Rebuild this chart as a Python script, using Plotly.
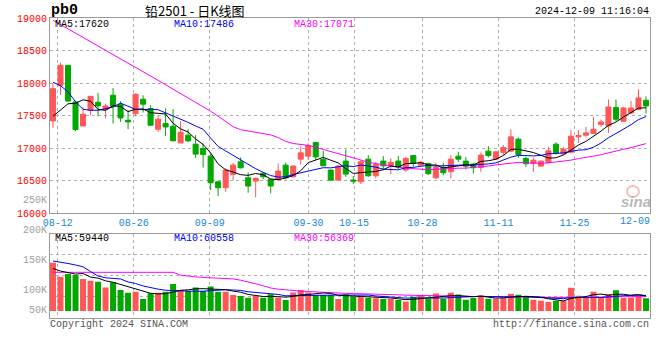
import pandas as pd
import plotly.graph_objects as go

# ---------------- data ----------------
dates = ["08-09", "08-12", "08-13", "08-14", "08-15", "08-16", "08-19", "08-20", "08-21", "08-22",
         "08-23", "08-26", "08-27", "08-28", "08-29", "08-30", "09-02", "09-03", "09-04", "09-05",
         "09-06", "09-09", "09-10", "09-11", "09-12", "09-13", "09-18", "09-19", "09-20", "09-23",
         "09-24", "09-25", "09-26", "09-27", "09-30", "10-08", "10-09", "10-10", "10-11", "10-14",
         "10-15", "10-16", "10-17", "10-18", "10-21", "10-22", "10-23", "10-24", "10-25", "10-28",
         "10-29", "10-30", "10-31", "11-01", "11-04", "11-05", "11-06", "11-07", "11-08", "11-11",
         "11-12", "11-13", "11-14", "11-15", "11-18", "11-19", "11-20", "11-21", "11-22", "11-25",
         "11-26", "11-27", "11-28", "11-29", "12-02", "12-03", "12-04", "12-05", "12-06", "12-09"]

open_ = [17419, 17966, 18272, 17710, 17342, 17583, 17705, 17598, 17813, 17670,
         17430, 17532, 17751, 17609, 17292, 17379, 17338, 17082, 17200, 17062,
         16996, 16878, 16484, 16393, 16598, 16791, 16546, 16495, 16613, 16521,
         16521, 16740, 16561, 16832, 16878, 17088, 16828, 16664, 16510, 16802,
         16510, 16484, 16832, 16576, 16802, 16730, 16802, 16664, 16889, 16740,
         16766, 16546, 16705, 16638, 16878, 16802, 16756, 16705, 16955, 16832,
         16935, 16955, 17139, 16843, 16766, 16725, 16782, 17062, 16913, 16939,
         17174, 17200, 17226, 17364, 17342, 17624, 17414, 17542, 17594, 17736]
high = [17992, 18314, 18280, 17730, 17633, 17800, 17848, 17686, 17925, 17721,
        17583, 17840, 17813, 17660, 17506, 17609, 17600, 17414, 17292, 17200,
        17073, 16920, 16490, 16690, 16776, 16858, 16628, 16546, 16633, 16530,
        16766, 16776, 16740, 17021, 17073, 17095, 16959, 16670, 16740, 16981,
        16572, 16817, 16894, 16791, 16878, 16843, 16878, 16867, 16895, 16802,
        16776, 16776, 16776, 16894, 16944, 16867, 16776, 16935, 17031, 16955,
        17047, 17287, 17165, 16867, 16858, 16817, 17021, 17088, 17021, 17277,
        17277, 17327, 17480, 17440, 17747, 17747, 17635, 17725, 17905, 17797]
low = [17312, 17823, 17710, 17261, 17335, 17506, 17491, 17456, 17379, 17404,
       17292, 17491, 17548, 17340, 17250, 17185, 17110, 17075, 17097, 16852,
       16702, 16357, 16265, 16331, 16510, 16690, 16316, 16245, 16526, 16307,
       16500, 16521, 16555, 16751, 16817, 16817, 16725, 16495, 16505, 16561,
       16449, 16449, 16561, 16537, 16674, 16598, 16679, 16638, 16714, 16735,
       16590, 16526, 16587, 16537, 16790, 16674, 16613, 16638, 16860, 16820,
       16894, 16935, 16852, 16714, 16638, 16714, 16766, 16905, 16894, 16920,
       17082, 17169, 17220, 17327, 17235, 17414, 17410, 17522, 17583, 17532]
close = [17915, 18272, 17725, 17287, 17522, 17797, 17649, 17649, 17644, 17465,
         17404, 17828, 17675, 17353, 17445, 17327, 17113, 17246, 17113, 16909,
         16904, 16469, 16393, 16664, 16740, 16699, 16419, 16537, 16561, 16419,
         16648, 16546, 16725, 16929, 17042, 16867, 16730, 16510, 16725, 16602,
         16495, 16791, 16576, 16751, 16730, 16782, 16714, 16843, 16766, 16786,
         16608, 16705, 16623, 16832, 16832, 16724, 16700, 16894, 16888, 16944,
         17012, 17174, 16904, 16761, 16816, 16801, 16959, 16923, 16985, 17185,
         17195, 17235, 17292, 17404, 17633, 17445, 17618, 17618, 17771, 17649]
volume = [190000, 135000, 145000, 141000, 126000, 119000, 115000, 92000, 113000, 83000,
          72000, 76000, 47000, 70000, 72000, 76000, 106000, 83000, 79000, 92000,
          79000, 96000, 76000, 76000, 63000, 59000, 52000, 59000, 52000, 66000,
          52000, 43000, 73000, 83000, 73000, 63000, 63000, 63000, 47000, 66000,
          56000, 60000, 52000, 50000, 47000, 47000, 43000, 37000, 56000, 63000,
          48500, 68500, 48500, 71500, 64500, 44500, 51500, 60500, 48500, 48500,
          51000, 68000, 64000, 57000, 44000, 40000, 35000, 40000, 40000, 91490,
          60380, 52000, 76000, 53000, 67000, 82000, 51000, 52000, 62000, 50200]

# moving-average values before enough history exists
price_ma5_head = [17491, 17591, 17682, 17690]
price_ma10_head = [18012, 17961, 17866, 17713, 17598, 17583, 17583, 17606, 17632]
price_ma30_head = [18965, 18900, 18835, 18770, 18704, 18640, 18574, 18510, 18444, 18380,
                   18312, 18245, 18177, 18110, 18043, 17974, 17908, 17839, 17771, 17702,
                   17637, 17568, 17491, 17407, 17330, 17284, 17262, 17240, 17222]
vol_ma5_head = [167000, 157000, 151000, 145000]
vol_ma10_head = [196500, 192600, 186700, 180800, 173700, 155000, 137500, 130500, 127700]
vol_ma30_head = [152000] * 17 + [141000, 137000, 134000, 132000, 130500, 129500, 128500,
                                 126000, 121000, 115000, 107000, 99000]

tick_labels = ["08-12", "08-26", "09-09", "09-30", "10-15", "10-28", "11-11", "11-25", "12-09"]
price_ticks = [16000, 16500, 17000, 17500, 18000, 18500, 19000]
vol_labels = ["250K", "200K", "150K", "100K", "50K"]

title_text = "铅2501 - 日K线图"
symbol_text = "pb0"
stamp_text = "2024-12-09 11:16:04"

# ---------------- derived ----------------
n = len(dates)
idx = list(range(n))


def moving(values, w, head):
    s = pd.Series(values, dtype=float).rolling(w).mean().to_numpy()
    s[: w - 1] = head
    return s


ma5 = moving(close, 5, price_ma5_head)
ma10 = moving(close, 10, price_ma10_head)
ma30 = moving(close, 30, price_ma30_head)
vma5 = moving(volume, 5, vol_ma5_head)
vma10 = moving(volume, 10, vol_ma10_head)
vma30 = moving(volume, 30, vol_ma30_head)

RED = "#ff5757"
GREEN = "#00a800"
MONO = "Liberation Mono, DejaVu Sans Mono, monospace"
GRID = "#b0b0b0"
BORDER = "#9a9a9a"
DATE_BLUE = "#1a86d6"

W, H = 660, 360
PX_L, PX_R = 50, 650
CANDLE_PX = 593 / 79          # candle pitch in pixels
GRID_PX = 7.6                 # Sina draws date grid on a slightly wider pitch
x_range = [-3 / CANDLE_PX, (n - 1) + 4 / CANDLE_PX]
tick_idx = [dates.index(d) for d in tick_labels]
tickvals = [(GRID_PX * d - 2.9) / CANDLE_PX for d in tick_idx]
# the last date label sits flush against the right border, drawn separately
ticktext = tick_labels[:-1] + [""]

main_top, main_bot = 18, 213.3
vol_top, vol_bot, vol_base = 234, 317.7, 311
vol_per_px = 3930
vol_range = [-(vol_bot - vol_base) * vol_per_px, (vol_base - vol_top) * vol_per_px]
vol_grid = [vol_range[0] + k * (vol_range[1] - vol_range[0]) / 4 for k in (1, 2, 3)]


def ydom(top, bot):
    return [1 - bot / H, 1 - top / H]


bar_colors = [RED if c >= o else GREEN for o, c in zip(open_, close)]

fig = go.Figure()
fig.add_trace(go.Candlestick(
    x=idx, open=open_, high=high, low=low, close=close,
    increasing=dict(line=dict(color=RED, width=1), fillcolor=RED),
    decreasing=dict(line=dict(color=GREEN, width=1), fillcolor=GREEN),
    whiskerwidth=0, xaxis="x", yaxis="y", hoverinfo="skip"))
for series, col in ((ma30, "#ff00ff"), (ma10, "#0000ff"), (ma5, "#000000")):
    fig.add_trace(go.Scatter(x=idx, y=series, mode="lines", line=dict(color=col, width=1),
                             xaxis="x", yaxis="y", hoverinfo="skip"))

fig.add_trace(go.Bar(x=idx, y=volume, marker=dict(color=bar_colors, line=dict(width=0)),
                     width=0.8, xaxis="x2", yaxis="y2", hoverinfo="skip"))
for series, col in ((vma30, "#ff00ff"), (vma10, "#0000ff"), (vma5, "#000000")):
    fig.add_trace(go.Scatter(x=idx, y=series, mode="lines", line=dict(color=col, width=1),
                             xaxis="x2", yaxis="y2", hoverinfo="skip"))

axis_common = dict(showline=True, mirror=True, linecolor=BORDER, linewidth=1,
                   showgrid=True, gridcolor=GRID, griddash="dot", gridwidth=1,
                   zeroline=False, ticks="", fixedrange=True, automargin=False)

fig.update_layout(
    width=W, height=H, margin=dict(l=0, r=0, t=0, b=0, pad=0, autoexpand=False),
    paper_bgcolor="white", plot_bgcolor="white", showlegend=False,
    boxgap=0.33, boxgroupgap=0,
    xaxis=dict(domain=[PX_L / W, PX_R / W], range=x_range, anchor="y",
               tickmode="array", tickvals=tickvals, ticktext=ticktext,
               tickfont=dict(family=MONO, size=10, color=DATE_BLUE),
               rangeslider=dict(visible=False), **axis_common),
    yaxis=dict(domain=ydom(main_top, main_bot), range=[16000, 19000], anchor="x",
               tickmode="array", tickvals=price_ticks,
               ticktext=[str(v) for v in price_ticks],
               tickfont=dict(family=MONO, size=10, color="#ff0000"), **axis_common),
    xaxis2=dict(domain=[PX_L / W, PX_R / W], range=x_range, anchor="y2", matches="x",
                tickmode="array", tickvals=tickvals, showticklabels=False, **axis_common),
    yaxis2=dict(domain=ydom(vol_top, vol_bot), range=vol_range, anchor="x2",
                tickmode="array", tickvals=vol_grid, showticklabels=False, **axis_common),
)


def note(text, px, py, anchor="left", color="#000000", size=10, family=MONO):
    fig.add_annotation(text=text, xref="paper", yref="paper", x=px / W, y=1 - py / H,
                       xanchor=anchor, yanchor="middle", showarrow=False, borderpad=0,
                       font=dict(family=family, size=size, color=color))


note("<b>" + symbol_text + "</b>", 50, 10.5, size=15)
note(title_text, 195, 10.5, anchor="center", size=13, family="Noto Sans CJK SC")
note(stamp_text, 650, 11.5, anchor="right")

note(f"MA5:{ma5[-1]:.0f}", 54, 24.2)
note(f"MA10:{ma10[-1]:.0f}", 173, 24.2, color="#0000ff")
note(f"MA30:{ma30[-1]:.0f}", 293, 24.2, color="#ff00ff")

note(f"MA5:{vma5[-1]:.0f}", 54, 238.7)
note(f"MA10:{vma10[-1]:.0f}", 173, 238.7, color="#0000ff")
note(f"MA30:{vma30[-1]:.0f}", 293, 238.7, color="#ff00ff")

note(tick_labels[-1], 651, 221.5, anchor="right", color=DATE_BLUE)

for lab, py in zip(vol_labels, [200.3, 230.8, 260.3, 290, 310.3]):
    note(lab, 48, py, anchor="right", color="#a0a0a0")

note("Copyright 2024 SINA.COM", 49, 324, color="#555555")
note("http://finance.sina.com.cn", 650, 324, anchor="right", color="#555555")

# faint sina watermark
fig.add_shape(type="circle", xref="paper", yref="paper",
              x0=627 / W, x1=639 / W, y0=1 - 197 / H, y1=1 - 186 / H,
              line=dict(color="rgba(240,150,150,0.6)", width=2))
note("<i><b>sina</b></i>", 636, 201, anchor="center", color="rgba(160,160,160,0.75)",
     size=15, family="Liberation Sans, Arial, sans-serif")

fig.write_html("out.html", config={"displayModeBar": False, "staticPlot": True},
               post_script="document.body.style.margin='0';")
